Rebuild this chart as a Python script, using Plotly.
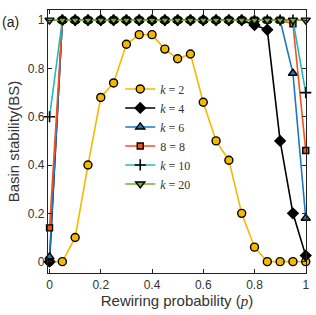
import plotly.graph_objects as go

p = [round(i * 0.05, 2) for i in range(21)]

bs_k2 = [0, 0, 0.10, 0.40, 0.68, 0.74, 0.90, 0.94, 0.94, 0.88, 0.84, 0.86, 0.66, 0.50, 0.42, 0.20, 0.06, 0, 0, 0, 0]
bs_k4 = [0, 1, 1, 1, 1, 1, 1, 1, 1, 1, 1, 1, 1, 1, 1, 1, 0.98, 0.96, 0.50, 0.20, 0.025]
bs_k6 = [0.02, 1, 1, 1, 1, 1, 1, 1, 1, 1, 1, 1, 1, 1, 1, 1, 1, 1, 1, 0.78, 0.18]
bs_k8 = [0.14, 1, 1, 1, 1, 1, 1, 1, 1, 1, 1, 1, 1, 1, 1, 1, 1, 1, 1, 0.985, 0.46]
bs_k10 = [0.60, 1, 1, 1, 1, 1, 1, 1, 1, 1, 1, 1, 1, 1, 1, 1, 1, 1, 1, 1, 0.70]
bs_k20 = [1] * 21

labels = ["<i>k</i> = 2", "<i>k</i> = 4", "<i>k</i> = 6", "8 = 8", "<i>k</i> = 10", "<i>k</i> = 20"]
y_ticks = [0, 0.2, 0.4, 0.6, 0.8, 1]
x_ticks = [0, 0.2, 0.4, 0.6, 0.8, 1]
tick_text = ["0", "0.2", "0.4", "0.6", "0.8", "1"]

series = [
    (bs_k2, "#F5B800", "circle", 8, "#F5B800"),
    (bs_k4, "#000000", "diamond", 8, "#000000"),
    (bs_k6, "#1F77C4", "triangle-up", 8, "#1F77C4"),
    (bs_k8, "#F4511E", "square", 6, "#F4511E"),
    (bs_k10, "#22BBBB", "cross-thin", 8, "#000000"),
    (bs_k20, "#77AC30", "triangle-down", 8, "#77AC30"),
]

fig = go.Figure()
for (vals, col, sym, sz, face), lab in zip(series, labels):
    if sym == "cross-thin":
        marker = dict(symbol=sym, size=sz, line=dict(color="#000000", width=1.6))
    else:
        marker = dict(symbol=sym, size=sz, color=face, line=dict(color="#000000", width=1.4))
    fig.add_trace(go.Scatter(x=p, y=vals, mode="lines+markers", name=lab,
                             line=dict(color=col, width=1.6), marker=marker,
                             cliponaxis=False))

axis_common = dict(showline=True, linecolor="#222222", linewidth=1.2, mirror="ticks",
                   ticks="inside", ticklen=4, tickcolor="#222222", showgrid=False,
                   zeroline=False, tickfont=dict(family="Liberation Sans", size=12, color="#333333"))

fig.update_layout(
    width=316, height=315,
    margin=dict(l=48, r=7, t=10, b=42),
    paper_bgcolor="white", plot_bgcolor="white",
    xaxis=dict(range=[-0.006, 1.001], tickvals=x_ticks, ticktext=tick_text,
               title=dict(text="Rewiring probability (<i><span style='font-family:Liberation Serif'>p</span></i>)",
                          font=dict(family="Liberation Sans", size=15, color="#333333"), standoff=2),
               **axis_common),
    yaxis=dict(range=[-0.047, 1.042], tickvals=y_ticks, ticktext=tick_text,
               title=dict(text="Basin stability(BS)",
                          font=dict(family="Liberation Sans", size=15, color="#333333"), standoff=4),
               **axis_common),
    legend=dict(x=0.28, y=0.755, xanchor="left", yanchor="top",
                bgcolor="rgba(0,0,0,0)", font=dict(family="Liberation Serif", size=12, color="#333333"),
                tracegroupgap=0, itemwidth=30),
    annotations=[dict(text="(a)", x=0, y=1, xref="paper", yref="paper", xanchor="left",
                      yanchor="bottom", showarrow=False, xshift=-48, yshift=-22,
                      font=dict(family="Liberation Sans", size=14, color="#222222"))],
)

fig.write_html("out.html", config={"displayModeBar": False},
               post_script="document.body.style.margin='0';")
